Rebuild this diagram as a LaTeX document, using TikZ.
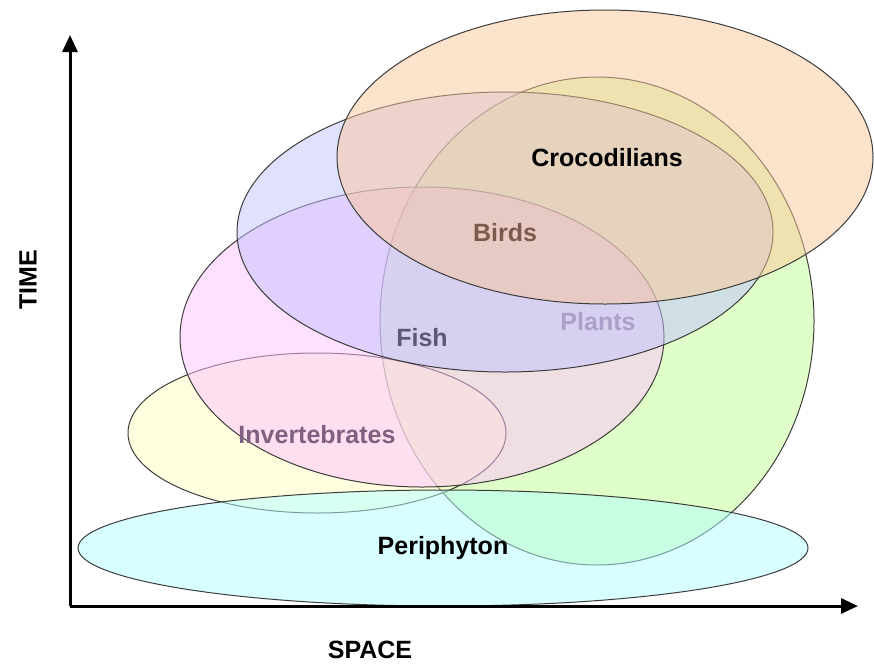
\documentclass[tikz,border=0pt]{standalone}
\usepackage{fontspec}
\setmainfont{Liberation Sans}
\usepackage{xcolor}
\usepackage{tikz}
\usetikzlibrary{arrows.meta}

\definecolor{crocfill}{RGB}{251,199,153}
\definecolor{plantfill}{RGB}{193,255,145}
\definecolor{birdfill}{RGB}{193,193,255}
\definecolor{fishfill}{RGB}{255,193,255}
\definecolor{invfill}{RGB}{255,255,193}
\definecolor{perifill}{RGB}{177,255,255}
\definecolor{rimgray}{RGB}{60,60,60}
\definecolor{birdtext}{RGB}{122,90,74}
\definecolor{planttext}{RGB}{170,160,200}
\definecolor{fishtext}{RGB}{90,90,120}
\definecolor{invtext}{RGB}{128,96,128}

\begin{document}
\begin{tikzpicture}[x=1pt, y=-1pt,
    habitat/.style={draw=rimgray, line width=1pt, fill opacity=0.5},
    grouplabel/.style={font=\fontsize{25}{29}\selectfont\bfseries, inner sep=0pt},
    axisline/.style={line width=3pt, -{Triangle[length=17pt, width=15pt]}}]

\useasboundingbox (0,0) rectangle (874,664);

% --- Ranges ---
\filldraw[habitat, fill=plantfill] (597,321) ellipse [x radius=217pt, y radius=244pt];
\filldraw[habitat, fill=invfill] (317,433) ellipse [x radius=189pt, y radius=80pt];
\filldraw[habitat, fill=fishfill] (422,337) ellipse [x radius=242pt, y radius=150pt];
\filldraw[habitat, fill=birdfill] (505,232) ellipse [x radius=268pt, y radius=140pt];
\filldraw[habitat, fill=crocfill] (605,157) ellipse [x radius=268pt, y radius=147pt];
\filldraw[habitat, fill=perifill] (443,548) ellipse [x radius=365pt, y radius=58pt];

% --- Labels ---
\node[grouplabel] (croc) at (607,158) {Crocodilians};
\node[grouplabel, text=birdtext] (birds) at (505,233) {Birds};
\node[grouplabel, text=planttext] (plants) at (598,322) {Plants};
\node[grouplabel, text=fishtext] (fish) at (422,338) {Fish};
\node[grouplabel, text=invtext] (inv) at (317,435) {Invertebrates};
\node[grouplabel] (peri) at (443,548) {Periphyton};

% --- Axes ---
\coordinate (origin) at (70,606);
\coordinate (timetip) at (70,35);
\coordinate (spacetip) at (858,606);
\draw[axisline] (origin) -- (timetip);
\draw[axisline] (origin) -- (spacetip);

\node[grouplabel, rotate=90] (time) at (28,280) {TIME};
\node[grouplabel] (space) at (370,650) {SPACE};

\end{tikzpicture}
\end{document}
